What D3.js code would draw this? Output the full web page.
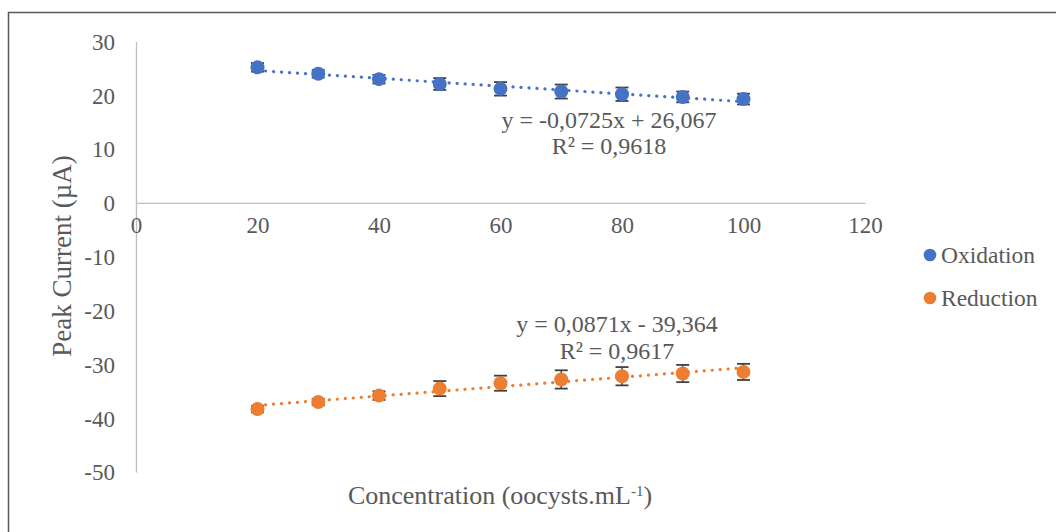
<!DOCTYPE html>
<html>
<head>
<meta charset="utf-8">
<script src="https://cdn.jsdelivr.net/npm/d3@7"></script>
<style>
  html, body { margin: 0; padding: 0; background: #ffffff; }
  svg { display: block; }
</style>
</head>
<body>
<svg id="chart" width="1056" height="532"></svg>
<script>
// Concentration (oocysts/mL)
const concentrations = [20, 30, 40, 50, 60, 70, 80, 90, 100];
// Peak currents (µA) and their standard deviations
const oxidation      = [25.2, 24.0, 23.0, 22.1, 21.2, 20.7, 20.2, 19.7, 19.3];
const oxidationErr   = [0.8, 0.7, 0.8, 1.1, 1.25, 1.3, 1.25, 1.0, 1.0];
const reduction      = [-38.3, -37.0, -35.8, -34.5, -33.5, -32.8, -32.2, -31.7, -31.4];
const reductionErr   = [0.6, 0.6, 0.8, 1.4, 1.4, 1.7, 1.7, 1.6, 1.5];

const xTicks = [0, 20, 40, 60, 80, 100, 120];
const yTicks = [30, 20, 10, 0, -10, -20, -30, -40, -50];

const seriesNames  = ["Oxidation", "Reduction"];
const seriesColors = ["#4472C4", "#ED7D31"];
const equations = [
  ["y = -0,0725x + 26,067", "R² = 0,9618"],
  ["y = 0,0871x - 39,364", "R² = 0,9617"]
];

const FONT = "'Liberation Serif', 'Times New Roman', serif";
const TEXT_COLOR = "#595959";

const svg = d3.select("#chart");

// chart frame
svg.append("rect")
  .attr("x", 8.5).attr("y", 12.5)
  .attr("width", 1100).attr("height", 600)
  .attr("fill", "none").attr("stroke", "#595959").attr("stroke-width", 1.5);

const x = d3.scaleLinear().domain([0, 120]).range([136, 865]);
const y = d3.scaleLinear().domain([-50, 30]).range([472, 41.5]);

const axisColor = "#bfbfbf";
const tickFont = "23px";
const plainNumber = d => String(d);

// y axis (line at x = 0)
const yAxis = svg.append("g")
  .attr("transform", `translate(${x(0)},0)`)
  .call(d3.axisLeft(y).tickValues(yTicks).tickSize(0).tickPadding(21).tickFormat(plainNumber));
yAxis.attr("font-family", null).attr("font-size", null);
yAxis.select(".domain").attr("stroke", axisColor).attr("stroke-width", 1.3);
yAxis.selectAll("text")
  .style("font-family", FONT)
  .style("font-size", tickFont).attr("fill", TEXT_COLOR)
  .attr("dy", "0.34em");

// x axis (line at y = 0)
const xAxis = svg.append("g")
  .attr("transform", `translate(0,${y(0)})`)
  .call(d3.axisBottom(x).tickValues(xTicks).tickSize(0).tickPadding(22).tickFormat(plainNumber));
xAxis.attr("font-family", null).attr("font-size", null);
xAxis.select(".domain").attr("stroke", axisColor).attr("stroke-width", 1.3);
xAxis.selectAll("text")
  .style("font-family", FONT)
  .style("font-size", tickFont).attr("fill", TEXT_COLOR)
  .attr("dy", "0.34em");

// least-squares fit for each series
function fit(xs, ys) {
  const mx = d3.mean(xs), my = d3.mean(ys);
  let sxy = 0, sxx = 0;
  xs.forEach((v, i) => { sxy += (v - mx) * (ys[i] - my); sxx += (v - mx) * (v - mx); });
  const m = sxy / sxx;
  return { m, b: my - m * mx };
}

const allSeries = [
  { values: oxidation, errs: oxidationErr },
  { values: reduction, errs: reductionErr }
];

const eqPos = [
  { cx: 609, y1: 120, y2: 146 },
  { cx: 617, y1: 324, y2: 351 }
];

function label(sel, size) {
  return sel.style("font-family", FONT).style("font-size", size).attr("fill", TEXT_COLOR);
}

allSeries.forEach((s, si) => {
  const color = seriesColors[si];
  const g = svg.append("g");
  const f = fit(concentrations, s.values);
  const x0 = d3.min(concentrations), x1 = d3.max(concentrations);

  // dotted linear trendline
  g.append("line")
    .attr("x1", x(x0)).attr("y1", y(f.m * x0 + f.b))
    .attr("x2", x(x1)).attr("y2", y(f.m * x1 + f.b))
    .attr("stroke", color).attr("stroke-width", 3.2)
    .attr("stroke-linecap", "round")
    .attr("stroke-dasharray", "0.1 7.9");

  // error bars
  const eb = g.selectAll(".eb").data(concentrations).enter().append("g");
  eb.append("line")
    .attr("x1", d => x(d)).attr("x2", d => x(d))
    .attr("y1", (d, i) => y(s.values[i] + s.errs[i]))
    .attr("y2", (d, i) => y(s.values[i] - s.errs[i]))
    .attr("stroke", "#404040").attr("stroke-width", 1.5);
  [1, -1].forEach(sign => {
    eb.append("line")
      .attr("x1", d => x(d) - 6.5).attr("x2", d => x(d) + 6.5)
      .attr("y1", (d, i) => y(s.values[i] + sign * s.errs[i]))
      .attr("y2", (d, i) => y(s.values[i] + sign * s.errs[i]))
      .attr("stroke", "#404040").attr("stroke-width", 1.8);
  });

  // markers
  g.selectAll("circle").data(concentrations).enter().append("circle")
    .attr("cx", d => x(d))
    .attr("cy", (d, i) => y(s.values[i]))
    .attr("r", 7)
    .attr("fill", color);

  // trendline equation
  const p = eqPos[si];
  label(g.append("text"), "24px").attr("x", p.cx).attr("y", p.y1).attr("dy", "0.34em")
    .attr("text-anchor", "middle").text(equations[si][0]);
  label(g.append("text"), "24px").attr("x", p.cx).attr("y", p.y2).attr("dy", "0.34em")
    .attr("text-anchor", "middle").text(equations[si][1]);
});

// legend
const legend = svg.append("g");
seriesNames.forEach((name, i) => {
  const ly = 255 + i * 43;
  legend.append("circle").attr("cx", 930).attr("cy", ly).attr("r", 6.3).attr("fill", seriesColors[i]);
  label(legend.append("text"), "23.5px").attr("x", 941).attr("y", ly).attr("dy", "0.34em").text(name);
});

// axis titles
label(svg.append("text"), "27px")
  .attr("transform", "translate(62,256) rotate(-90)")
  .attr("text-anchor", "middle").attr("dy", "0.34em")
  .text("Peak Current (µA)");

const xt = label(svg.append("text"), "26px")
  .attr("x", 500).attr("y", 495).attr("dy", "0.34em")
  .attr("text-anchor", "middle");
xt.append("tspan").text("Concentration (oocysts.mL");
xt.append("tspan").attr("baseline-shift", "super").style("font-size", "15px").text("-1");
xt.append("tspan").text(")");
</script>
</body>
</html>
